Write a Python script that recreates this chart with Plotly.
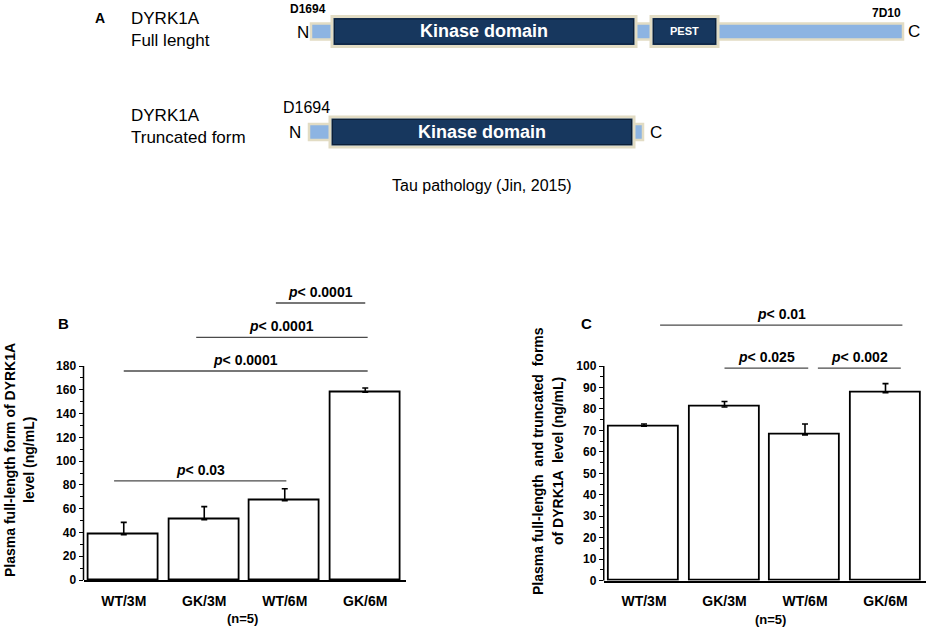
import plotly.graph_objects as go

# %%
# Data

groups = ["WT/3M", "GK/3M", "WT/6M", "GK/6M"]

# panel B: plasma full-length DYRK1A (ng/mL)
full_mean = [38, 50.7, 66.7, 158]
full_err = [10.5, 11, 10, 3.5]

# panel C: plasma full-length + truncated DYRK1A (ng/mL)
total_mean = [72, 80.9, 67.9, 87.6]
total_err = [1, 2.6, 5.1, 4.2]

# significance bars (from group index, to group index, level, p value)
b_sig_from = [-0.12, 0.0, 0.9, 1.89]
b_sig_to = [2.02, 3.03, 3.03, 3.0]
b_sig_level = [83.3, 175.8, 204, 233]
b_sig_p = ["0.03", "0.0001", "0.0001", "0.0001"]

c_sig_from = [0.2, 1.0, 2.16]
c_sig_to = [3.21, 2.04, 3.19]
c_sig_level = [119, 99, 99]
c_sig_p = ["0.01", "0.025", "0.002"]

b_ticks = list(range(0, 181, 20))
c_ticks = list(range(0, 101, 10))

# panel A scheme (diagram units): backbone, kinase domain, PEST
full_backbone = [311, 903]
full_kinase = [332, 636]
full_pest = [651, 718]
trunc_backbone = [309, 643]
trunc_kinase = [330, 634]

FONT = "Arial, Liberation Sans, sans-serif"
LIGHT = "#8DB4E2"
NAVY = "#17375E"
TAN = "#E2DCC4"

W, H = 928, 629


def px(x):
    return x / W


def py(y):
    return 1 - y / H


fig = go.Figure()

# %%
# Bars

fig.add_trace(go.Bar(x=list(range(4)), y=full_mean, width=0.87,
                     marker=dict(color="white", line=dict(color="black", width=1.8)),
                     error_y=dict(type="data", symmetric=False, array=full_err,
                                  arrayminus=[0] * 4, color="black", thickness=1.6, width=3),
                     xaxis="x", yaxis="y", showlegend=False, hoverinfo="skip"))

fig.add_trace(go.Bar(x=list(range(4)), y=total_mean, width=0.87,
                     marker=dict(color="white", line=dict(color="black", width=1.8)),
                     error_y=dict(type="data", symmetric=False, array=total_err,
                                  arrayminus=[0] * 4, color="black", thickness=1.6, width=3),
                     xaxis="x2", yaxis="y2", showlegend=False, hoverinfo="skip"))

fig.add_trace(go.Scatter(x=[], y=[], xaxis="x3", yaxis="y3", showlegend=False))

shapes = []
annotations = []

# y axis lines only up to last tick
shapes.append(dict(type="line", xref="x domain", yref="y", x0=0, x1=0, y0=0, y1=180,
                   line=dict(color="black", width=1.5)))
shapes.append(dict(type="line", xref="x2 domain", yref="y2", x0=0, x1=0, y0=0, y1=100,
                   line=dict(color="black", width=1.5)))

# significance lines and labels
for xr, yr, froms, tos, levels, ps in [("x", "y", b_sig_from, b_sig_to, b_sig_level, b_sig_p),
                                       ("x2", "y2", c_sig_from, c_sig_to, c_sig_level, c_sig_p)]:
    for x0, x1, lv, p in zip(froms, tos, levels, ps):
        shapes.append(dict(type="line", xref=xr, yref=yr, x0=x0, x1=x1, y0=lv, y1=lv,
                           line=dict(color="#4a4a4a", width=1.3)))
        annotations.append(dict(xref=xr, yref=yr, x=(x0 + x1) / 2, y=lv,
                                xanchor="center", yanchor="bottom", yshift=1,
                                showarrow=False, text="<b><i>p</i>&lt; " + p + "</b>",
                                font=dict(family=FONT, size=14, color="black")))

# %%
# Panel A scheme


def box(seg, yc, half, fill, border, bw):
    return dict(type="rect", xref="x3", yref="y3", x0=seg[0], x1=seg[1],
                y0=yc - half, y1=yc + half, fillcolor=fill,
                line=dict(color=border, width=bw), layer="above")


for backbone, domains, yc in [(full_backbone, [full_kinase, full_pest], 31.5),
                              (trunc_backbone, [trunc_kinase], 132)]:
    shapes.append(box(backbone, yc, 8, LIGHT, TAN, 2.5))
    for d in domains:
        shapes.append(box(d, yc, 15, NAVY, TAN, 3))
        shapes.append(box([d[0] + 2.5, d[1] - 2.5], yc, 12.5, NAVY, "#0C1F38", 1))

kin_font = dict(family=FONT, size=18, color="white", weight="bold")
scheme = [
    dict(x=sum(full_kinase) / 2, y=31, text="Kinase domain", font=kin_font),
    dict(x=sum(trunc_kinase) / 2, y=132, text="Kinase domain", font=kin_font),
    dict(x=sum(full_pest) / 2, y=31, text="PEST",
         font=dict(family=FONT, size=11, color="white", weight="bold")),
]

reg17 = dict(family=FONT, size=17, color="black")
scheme += [
    dict(x=100, y=18, text="<b>A</b>", font=dict(family=FONT, size=14, color="black")),
    dict(x=129, y=18, text="DYRK1A", xanchor="left", font=reg17),
    dict(x=129, y=40, text="Full lenght", xanchor="left", font=reg17),
    dict(x=129, y=115, text="DYRK1A", xanchor="left", font=reg17),
    dict(x=129, y=137, text="Truncated form", xanchor="left", font=reg17),
    dict(x=303, y=32, text="N", font=reg17),
    dict(x=914, y=31, text="C", font=reg17),
    dict(x=295, y=132, text="N", font=reg17),
    dict(x=656, y=132, text="C", font=reg17),
    dict(x=308, y=9, text="<b>D1694</b>", font=dict(family=FONT, size=12, color="black")),
    dict(x=886, y=13, text="<b>7D10</b>", font=dict(family=FONT, size=12, color="black")),
    dict(x=306, y=107, text="D1694", font=dict(family=FONT, size=16, color="black")),
    dict(x=482, y=185, text="Tau pathology (Jin, 2015)", font=dict(family=FONT, size=16, color="black")),
]
for a in scheme:
    a.setdefault("xanchor", "center")
    a.update(xref="x3", yref="y3", yanchor="middle", showarrow=False)
annotations += scheme

# %%
# Panel letters, axis titles, n

bold13 = dict(family=FONT, size=13, color="black", weight="bold")
bold14 = dict(family=FONT, size=14, color="black", weight="bold")
labels = [
    dict(x=63, y=323, text="<b>B</b>", font=dict(family=FONT, size=15, color="black")),
    dict(x=586, y=323, text="<b>C</b>", font=dict(family=FONT, size=15, color="black")),
    dict(x=10, y=460, textangle=-90, text="Plasma full-length form of DYRK1A", font=bold14),
    dict(x=29, y=460, textangle=-90, text="level (ng/mL)", font=bold14),
    dict(x=538, y=461, textangle=-90, text="Plasma full-length  and truncated  forms", font=bold14),
    dict(x=558, y=461, textangle=-90, text="of DYRK1A  level (ng/mL)", font=bold14),
    dict(x=243, y=618, text="(n=5)", font=bold13),
    dict(x=770, y=619, text="(n=5)", font=bold13),
]
for a in labels:
    a.update(xref="paper", yref="paper", x=px(a["x"]), y=py(a["y"]),
             xanchor="center", yanchor="middle", showarrow=False)
annotations += labels

# %%
# Layout

xcommon = dict(range=[-0.5, 3.5], tickvals=list(range(4)), ticktext=groups, ticks="",
               showline=True, linecolor="black", linewidth=1.5, showgrid=False,
               zeroline=False, tickfont=bold14, ticklabelstandoff=7, fixedrange=True,
               automargin=False)
ycommon = dict(showline=False, showgrid=False, zeroline=False, ticks="outside", ticklen=4,
               tickcolor="black", tickwidth=1, fixedrange=True, automargin=False,
               tickfont=dict(family=FONT, size=12, color="black", weight="bold"))

fig.update_layout(
    width=W, height=H,
    margin=dict(l=0, r=0, t=0, b=0, pad=0, autoexpand=False),
    paper_bgcolor="white", plot_bgcolor="rgba(0,0,0,0)",
    bargap=0,
    xaxis=dict(domain=[px(83.5), px(405.5)], anchor="y", **xcommon),
    yaxis=dict(domain=[py(580), py(280.4)], range=[0, 252], anchor="x",
               tickvals=b_ticks,
               minor=dict(tickvals=list(range(10, 180, 20)), ticks="outside", ticklen=2.5,
                          tickcolor="black"),
               **ycommon),
    xaxis2=dict(domain=[px(603.75), px(925.75)], anchor="y2", **xcommon),
    yaxis2=dict(domain=[py(580.7), py(301.6)], range=[0, 130], anchor="x2",
                tickvals=c_ticks,
                minor=dict(tickvals=list(range(5, 100, 10)), ticks="outside", ticklen=2.5,
                           tickcolor="black"),
                **ycommon),
    xaxis3=dict(domain=[0, 1], range=[0, W], anchor="y3", visible=False, fixedrange=True),
    yaxis3=dict(domain=[0, 1], range=[H, 0], anchor="x3", visible=False, fixedrange=True),
    shapes=shapes,
    annotations=annotations,
)

# drop the default page margin so the figure sits at the window's corner
fig.write_html("out.html", config={"displayModeBar": False},
               post_script="document.body.style.margin = '0';")
